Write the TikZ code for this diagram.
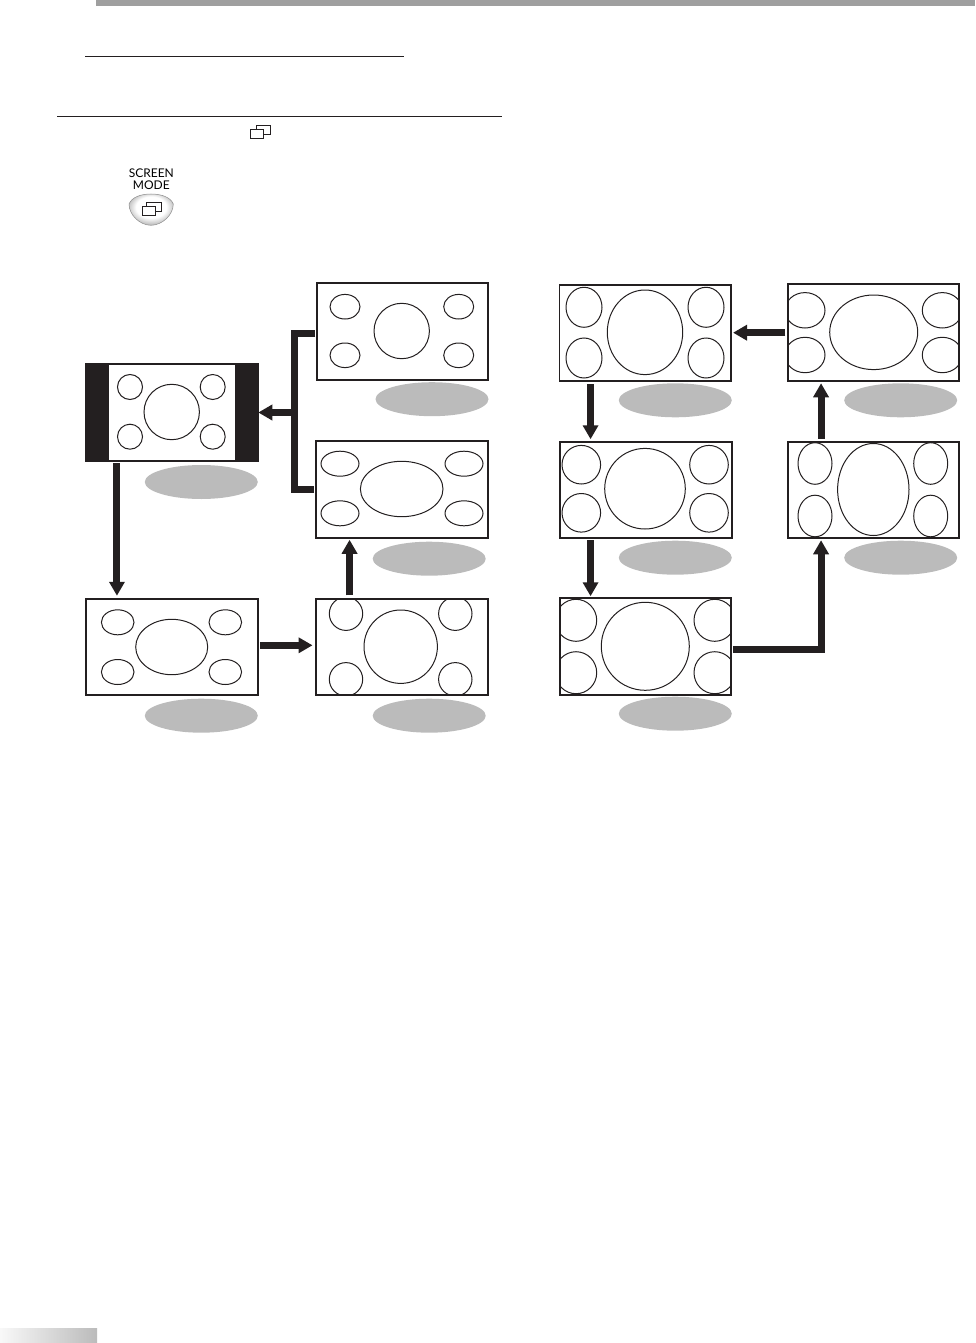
\documentclass[tikz,border=0pt]{standalone}
\usepackage{fontspec}
\setsansfont{Lato}
\usetikzlibrary{arrows.meta}
\usetikzlibrary{shapes.geometric}
\definecolor{ink}{RGB}{35, 31, 32}
\definecolor{oo}{RGB}{187, 187, 187}
\definecolor{bb}{RGB}{159, 159, 159}
\pgfdeclareradialshading{btnglow}{\pgfpoint{0bp}{6bp}}{color(0bp)=(white); color(17bp)=(white); color(27bp)=(oo); color(36bp)=(bb); color(50bp)=(bb)}
\tikzset{
  screenbox/.style={rectangle, draw=ink, line width=1.8pt, minimum width=171.5pt, minimum height=96.5pt, outer sep=0pt, inner sep=0pt},
  ring/.style={draw=ink, line width=1pt},
  tag/.style={ellipse, fill=oo, minimum width=113pt, minimum height=34pt, inner sep=0pt},
  flow/.style={draw=ink, line width=7pt, -{Triangle[width=15pt,length=14pt]}},
  flowbar/.style={draw=ink, line width=7pt},
  rule/.style={line width=1pt, color=ink},
  icon/.style={draw=ink, line width=0.8pt},
}

\begin{document}
\begin{tikzpicture}
\useasboundingbox (0pt,0pt) rectangle (975pt,-1343pt);
% page furniture
\node (topbar) [rectangle, fill=bb, minimum width=879pt, minimum height=6pt, inner sep=0pt, anchor=north west] at (96pt, 0pt) {};
\node (footbar) [rectangle, left color=white!90!oo, right color=oo, minimum width=97pt, minimum height=14pt, inner sep=0pt, anchor=south west] at (0pt, -1343pt) {};
\coordinate (r1a) at (85pt, -57pt);
\coordinate (r1b) at (404pt, -57pt);
\coordinate (r2a) at (57pt, -116.5pt);
\coordinate (r2b) at (502pt, -116.5pt);
\draw [rule] (r1a) -- (r1b);
\draw [rule] (r2a) -- (r2b);
\draw [icon] (250.7pt,-129.7pt) rectangle (263.3pt,-138.3pt);
\draw [icon] (256pt,-129.7pt) |- (270.7pt,-125.7pt) |- (263.3pt,-134.3pt);
% remote button
\node (modetext) [font=\sffamily\fontsize{12pt}{12pt}\selectfont, align=center, inner sep=0pt] at (151.3pt, -179pt) {SCREEN\\MODE};
\shade [shading=btnglow, draw=oo!75!black, line width=0.5pt] (129pt,-204pt) .. controls (132pt,-197pt) and (141pt,-194pt) .. (151pt,-194pt) .. controls (161pt,-194pt) and (170.5pt,-197pt) .. (173.3pt,-204pt) .. controls (173.3pt,-215pt) and (162pt,-225.3pt) .. (151pt,-225.3pt) .. controls (140pt,-225.3pt) and (129pt,-215pt) .. (129pt,-204pt) -- cycle;
\draw [icon, line width=1pt] (146.7pt,-206.3pt) |- (161.7pt,-202.3pt) |- (155pt,-211.7pt);
\draw [icon, line width=1pt] (142.3pt,-206.3pt) rectangle (155pt,-215.7pt);
% screens
\node (c) [screenbox, fill=ink, minimum width=172.5pt, minimum height=97.5pt] at (172pt, -412.5pt) {};
\node (cin) [rectangle, fill=white, minimum width=126pt, minimum height=95pt, inner sep=0pt] at (172pt, -412.5pt) {};
\node (a) [screenbox] at (402.5pt, -331.5pt) {};
\node (b) [screenbox] at (402pt, -489.5pt) {};
\node (d) [screenbox] at (172pt, -647pt) {};
\node (e) [screenbox] at (402pt, -647pt) {};
\node (f) [screenbox] at (645.3pt, -333pt) {};
\node (g) [screenbox] at (873.5pt, -332.5pt) {};
\node (h) [screenbox, minimum width=172.5pt] at (646pt, -490pt) {};
\node (i) [screenbox] at (873.5pt, -490pt) {};
\node (j) [screenbox] at (645.5pt, -646.5pt) {};
% grey tags
\node (ta) [tag] at (432pt, -399.2pt) {};
\node (tb) [tag] at (429.2pt, -558.7pt) {};
\node (tc) [tag] at (201.3pt, -482pt) {};
\node (td) [tag] at (201.3pt, -715.7pt) {};
\node (te) [tag] at (429.2pt, -715.7pt) {};
\node (tf) [tag] at (675.3pt, -400.3pt) {};
\node (tg) [tag] at (900.7pt, -400.3pt) {};
\node (th) [tag] at (675.3pt, -557.7pt) {};
\node (ti) [tag] at (900.7pt, -557.7pt) {};
\node (tj) [tag] at (675.3pt, -713.7pt) {};
% rings
\draw [ring] (401.7pt,-331pt) ellipse (27.7pt and 27.7pt);
\draw [ring] (345pt,-306.7pt) ellipse (15pt and 12.3pt);
\draw [ring] (458.7pt,-306.7pt) ellipse (15pt and 12.3pt);
\draw [ring] (345pt,-355.3pt) ellipse (15pt and 12.3pt);
\draw [ring] (458.7pt,-355.3pt) ellipse (15pt and 12.3pt);
\draw [ring] (401.7pt,-489pt) ellipse (41.3pt and 27.7pt);
\draw [ring] (340pt,-463.7pt) ellipse (19pt and 12.5pt);
\draw [ring] (464pt,-463.7pt) ellipse (19pt and 12.5pt);
\draw [ring] (340pt,-513.3pt) ellipse (19pt and 12.5pt);
\draw [ring] (464pt,-513.3pt) ellipse (19pt and 12.5pt);
\draw [ring] (171.7pt,-412pt) ellipse (27.7pt and 27.7pt);
\draw [ring] (130pt,-387pt) ellipse (12.5pt and 12.5pt);
\draw [ring] (212.7pt,-387pt) ellipse (12.5pt and 12.5pt);
\draw [ring] (130pt,-436.7pt) ellipse (12.5pt and 12.5pt);
\draw [ring] (212.7pt,-436.7pt) ellipse (12.5pt and 12.5pt);
\draw [ring] (171.7pt,-647pt) ellipse (36pt and 27.7pt);
\draw [ring] (117.7pt,-622.3pt) ellipse (16.3pt and 12.5pt);
\draw [ring] (225.3pt,-622.3pt) ellipse (16.3pt and 12.5pt);
\draw [ring] (117.7pt,-672pt) ellipse (16.3pt and 12.5pt);
\draw [ring] (225.3pt,-672pt) ellipse (16.3pt and 12.5pt);
\begin{scope}
\clip (e.north west) rectangle (e.south east);
\draw [ring] (400.7pt,-646.7pt) ellipse (36.7pt and 36.7pt);
\draw [ring] (346pt,-613.7pt) ellipse (16.7pt and 16.7pt);
\draw [ring] (455.3pt,-613.7pt) ellipse (16.7pt and 16.7pt);
\draw [ring] (346pt,-679.3pt) ellipse (16.7pt and 16.7pt);
\draw [ring] (455.3pt,-679.3pt) ellipse (16.7pt and 16.7pt);
\end{scope}
\draw [ring] (645pt,-332.3pt) ellipse (37.7pt and 42.3pt);
\draw [ring] (584pt,-307.3pt) ellipse (18pt and 20pt);
\draw [ring] (706pt,-307.3pt) ellipse (18pt and 20pt);
\draw [ring] (584pt,-358pt) ellipse (18pt and 20pt);
\draw [ring] (706pt,-358pt) ellipse (18pt and 20pt);
\begin{scope}
\clip (g.north west) rectangle (g.south east);
\draw [ring] (873.7pt,-332.3pt) ellipse (44pt and 37.3pt);
\draw [ring] (805pt,-310.3pt) ellipse (20pt and 17.7pt);
\draw [ring] (942.3pt,-310.3pt) ellipse (20pt and 17.7pt);
\draw [ring] (805pt,-355pt) ellipse (20pt and 17.7pt);
\draw [ring] (942.3pt,-355pt) ellipse (20pt and 17.7pt);
\end{scope}
\draw [ring] (645pt,-488.7pt) ellipse (40.3pt and 40.3pt);
\draw [ring] (581.3pt,-464.7pt) ellipse (19.3pt and 19.3pt);
\draw [ring] (709pt,-464.7pt) ellipse (19.3pt and 19.3pt);
\draw [ring] (581.3pt,-512.8pt) ellipse (19.3pt and 19.3pt);
\draw [ring] (709pt,-512.8pt) ellipse (19.3pt and 19.3pt);
\draw [ring] (873.3pt,-489.5pt) ellipse (35.7pt and 46pt);
\draw [ring] (815pt,-463.5pt) ellipse (17pt and 20.8pt);
\draw [ring] (930.7pt,-463.5pt) ellipse (17pt and 20.8pt);
\draw [ring] (815pt,-516pt) ellipse (17pt and 20.8pt);
\draw [ring] (930.7pt,-516pt) ellipse (17pt and 20.8pt);
\begin{scope}
\clip (j.north west) rectangle (j.south east);
\draw [ring] (645.3pt,-646.3pt) ellipse (44pt and 44pt);
\draw [ring] (576pt,-620.3pt) ellipse (20.7pt and 21pt);
\draw [ring] (714.7pt,-620.3pt) ellipse (20.7pt and 21pt);
\draw [ring] (576pt,-672.7pt) ellipse (20.7pt and 21pt);
\draw [ring] (714.7pt,-672.7pt) ellipse (20.7pt and 21pt);
\end{scope}
% connectors
\coordinate (tee) at (294.3pt, -412.5pt);
\draw [flowbar] ([shift={(-1.5pt,-1.8pt)}]a.west) -| (tee) |- ([xshift=-2pt]b.west);
\draw [flow] (tee) -- (c.east);
\draw [flow] ([shift={(31.2pt,-2pt)}]c.south west) -- ([shift={(30.7pt,3pt)}]d.north west);
\draw [flow] ([xshift=2pt,yshift=1.7pt]d.east) -- ([xshift=-3.7pt,yshift=1.7pt]e.west);
\draw [flow] ([shift={(33.3pt,3.5pt)}]e.north west) -- ([shift={(33.3pt,-2pt)}]b.south west);
\draw [flow] ([shift={(-2.3pt,-0.2pt)}]g.west) -- ([xshift=2pt,yshift=0.3pt]f.east);
\draw [flow] ([shift={(31pt,-3pt)}]f.south west) -- ([shift={(30.8pt,2.5pt)}]h.north west);
\draw [flow] ([shift={(30.8pt,-2pt)}]h.south west) -- ([shift={(30.8pt,2pt)}]j.north west);
\coordinate (elbow) at (821.05pt, -649.3pt);
\draw [flow] ([xshift=2pt,yshift=-2.8pt]j.east) -- (elbow) -- ([shift={(33.3pt,-2pt)}]i.south west);
\draw [flow] ([shift={(33.3pt,3pt)}]i.north west) -- ([shift={(33.3pt,-2.5pt)}]g.south west);
\end{tikzpicture}
\end{document}
